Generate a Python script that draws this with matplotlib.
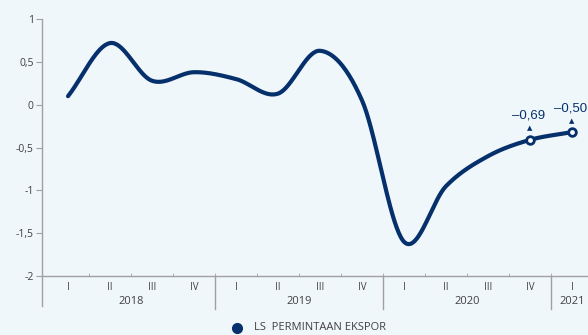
import matplotlib.pyplot as plt
import numpy as np

# data
quarters = ['I', 'II', 'III', 'IV', 'I', 'II', 'III', 'IV', 'I', 'II', 'III', 'IV', 'I']
years = ['2018', '2019', '2020', '2021']
year_quarters = [4, 4, 4, 1]
values = [0.10, 0.72, 0.28, 0.38, 0.30, 0.13, 0.63, 0.05, -1.60, -0.95, -0.60, -0.41, -0.32]
label_idx = [11, 12]
label_texts = ['\u20130,69', '\u20130,50']
series_name = 'LS  PERMINTAAN EKSPOR'

navy = '#06306b'
bg = '#f0f7fb'
grey = '#404040'


def catmull_rom(x, y, n=40):
    # smooth line like the spreadsheet "smoothed line" option
    x = np.asarray(x, float)
    y = np.asarray(y, float)
    px = np.concatenate([[2 * x[0] - x[1]], x, [2 * x[-1] - x[-2]]])
    py = np.concatenate([[2 * y[0] - y[1]], y, [2 * y[-1] - y[-2]]])
    xs, ys = [], []
    t = np.linspace(0, 1, n)
    for i in range(1, len(px) - 2):
        for p, out in ((px, xs), (py, ys)):
            p0, p1, p2, p3 = p[i - 1], p[i], p[i + 1], p[i + 2]
            out.append(0.5 * ((2 * p1) + (-p0 + p2) * t
                              + (2 * p0 - 5 * p1 + 4 * p2 - p3) * t ** 2
                              + (-p0 + 3 * p1 - 3 * p2 + p3) * t ** 3))
    return np.concatenate(xs), np.concatenate(ys)


plt.rcParams['font.family'] = ['Open Sans', 'DejaVu Sans']

fig = plt.figure(figsize=(5.88, 3.35), dpi=100, facecolor=bg)
ax = fig.add_axes([0.0714, 0.176, 0.9286, 0.767])
ax.set_facecolor(bg)

x = np.arange(len(values))
sx, sy = catmull_rom(x, values)
ax.plot(sx, sy, color=navy, lw=3, solid_capstyle='round', zorder=3)

# highlighted points with labels
for i, txt in zip(label_idx, label_texts):
    ax.plot(x[i], values[i], 'o', ms=5.5, mfc='white', mec=navy, mew=2, zorder=4)
    ax.annotate('\u25b2', (x[i], values[i]), xytext=(0, 6), textcoords='offset points',
                ha='center', va='bottom', fontsize=5, color=navy,
                family=['DejaVu Sans'])
    ax.annotate(txt, (x[i], values[i]), xytext=(-1, 13), textcoords='offset points',
                ha='center', va='bottom', fontsize=9.5, color=navy,
                family=['Liberation Sans', 'DejaVu Sans'])

ax.set_xlim(-0.62, 12.38)
ax.set_ylim(-2, 1)

yt = [1, 0.5, 0, -0.5, -1, -1.5, -2]
ax.set_yticks(yt)
ax.set_yticklabels([('%g' % v).replace('.', ',') for v in yt], fontsize=7.5, color=grey)
ax.set_xticks(x)
ax.set_xticklabels(quarters, fontsize=7, color=grey)
ax.set_xticks(np.arange(len(values) - 1) + 0.5, minor=True)
ax.tick_params(axis='x', which='major', length=0, pad=4)
ax.tick_params(axis='x', which='minor', length=2.5, color='#a0a0a0', direction='in')
ax.tick_params(axis='y', length=4, color='#a0a0a0', pad=2)

for s in ['top', 'right']:
    ax.spines[s].set_visible(False)
for s in ['left', 'bottom']:
    ax.spines[s].set_color('#a0a0a0')
    ax.spines[s].set_linewidth(1)
ax.spines['left'].set_bounds(-2.35, 1)

# year groups
start = 0
trans = ax.get_xaxis_transform()
for yr, n in zip(years, year_quarters):
    mid = start + (n - 1) / 2
    ax.text(mid, -0.1, yr, transform=trans, ha='center', va='center',
            fontsize=8, color=grey)
    if start > 0:
        ax.plot([start - 0.5, start - 0.5], [0, -0.13], transform=trans,
                color='#a0a0a0', lw=1, clip_on=False)
    start += n

# legend
fig.lines.append(plt.Line2D([0.403], [0.022], marker='o', ms=7, color=navy,
                            transform=fig.transFigure))
fig.text(0.432, 0.022, series_name, fontsize=8, color=grey, va='center', ha='left')

fig.savefig('out.png', dpi=100, facecolor=bg)
